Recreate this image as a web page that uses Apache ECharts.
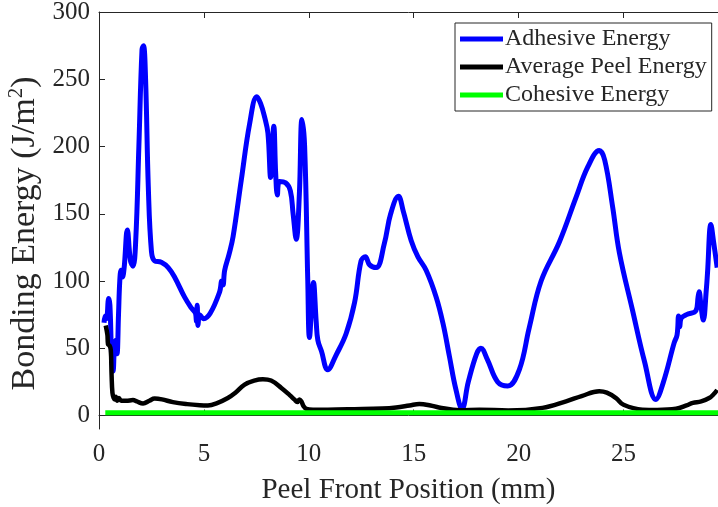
<!DOCTYPE html>
<html>
<head>
<meta charset="utf-8">
<script src="https://cdn.jsdelivr.net/npm/echarts@6/dist/echarts.min.js"></script>
<style>
  html, body { margin: 0; padding: 0; background: #fff; }
  #chart { width: 718px; height: 507px; }
</style>
</head>
<body>
<div id="chart"></div>
<script>
// Peel front position (mm) and adhesive energy (J/m^2)
const adhesiveX = [0.24, 0.30, 0.36, 0.46, 0.52, 0.60, 0.67, 0.74, 0.80, 0.86, 0.93, 0.99, 1.05, 1.12, 1.20, 1.35, 1.50, 1.62, 1.75, 1.90, 2.05, 2.12, 2.22, 2.35, 2.50, 2.65, 2.97, 3.30, 3.60, 4.08, 4.40, 4.60, 4.64, 4.68, 4.72, 4.80, 4.99, 5.30, 5.75, 5.85, 5.91, 5.99, 6.20, 6.39, 6.78, 7.18, 7.52, 7.70, 7.89, 8.05, 8.18, 8.33, 8.42, 8.50, 8.60, 8.89, 9.12, 9.25, 9.40, 9.55, 9.67, 9.80, 9.95, 10.03, 10.22, 10.35, 10.43, 10.60, 10.90, 11.30, 11.78, 12.18, 12.49, 12.69, 12.90, 13.21, 13.60, 13.90, 14.27, 14.50, 14.88, 15.20, 15.59, 16.07, 16.40, 16.70, 17.00, 17.30, 17.60, 18.00, 18.20, 18.50, 19.00, 19.48, 20.03, 20.50, 21.07, 21.94, 22.73, 23.30, 23.84, 24.10, 24.48, 24.80, 25.43, 26.00, 26.54, 26.90, 27.41, 27.55, 27.62, 27.68, 27.73, 28.00, 28.45, 28.55, 28.60, 28.70, 28.80, 28.95, 29.00, 29.16, 29.30, 29.46];
const adhesiveY = [69, 74, 72, 87, 82, 45, 33, 52, 56, 46, 75, 100, 108, 103, 110, 138, 115, 111, 130, 200, 272, 275, 250, 170, 122, 115, 114, 110, 103, 88, 80, 76, 70, 82, 67, 75, 72, 76, 92, 100, 97, 108, 120, 133, 175, 217, 237, 232, 222, 210, 177, 215, 180, 164, 174, 173, 167, 150, 131, 165, 220, 200, 100, 58, 99, 70, 56, 48, 34, 45, 61, 84, 115, 118, 112, 110, 128, 150, 163, 152, 130, 118, 108, 88, 68, 44, 20, 5, 25, 46, 50, 42, 25, 22, 34, 65, 100, 129, 162, 185, 197, 190, 155, 121, 78, 40, 12, 25, 54, 60, 74, 66, 72, 75, 78, 88, 92, 80, 71, 95, 106, 142, 128, 110];

// Average peel energy (J/m^2)
const peelX = [0.32, 0.40, 0.43, 0.50, 0.56, 0.60, 0.64, 0.70, 0.75, 0.80, 0.87, 0.95, 1.05, 1.30, 1.62, 1.80, 2.10, 2.40, 2.65, 3.00, 3.52, 4.20, 4.80, 5.19, 5.60, 6.14, 6.50, 6.94, 7.40, 7.81, 8.20, 8.69, 9.10, 9.32, 9.45, 9.55, 9.64, 9.75, 9.88, 10.20, 10.90, 12.18, 13.50, 14.16, 14.80, 15.27, 15.80, 16.20, 17.20, 18.13, 19.50, 21.13, 22.26, 23.00, 23.84, 24.20, 24.64, 25.00, 25.90, 26.60, 27.50, 28.00, 28.30, 28.70, 29.08, 29.30, 29.46];
const peelY = [67, 60, 53, 52, 49, 30, 17, 13, 12, 14, 11, 13, 11, 11, 11.5, 10.5, 9, 11, 12.6, 12, 10, 8.5, 7.7, 7.5, 9, 13, 17, 23, 26, 27, 26, 20.5, 15, 11.8, 10, 12, 10.6, 7, 5, 4.4, 4.4, 4.7, 5.2, 6, 7.5, 8.6, 7.5, 6, 4, 4.4, 3.8, 5.7, 10.6, 14.5, 18, 17, 13, 8, 4.4, 4.2, 5, 7.5, 9.4, 10.5, 13, 16, 19];

// Cohesive energy (J/m^2), constant over the peel
const cohesiveX = [0.3, 29.5];
const cohesiveY = [2, 2];

// Axis ticks
const xTicks = [0, 5, 10, 15, 20, 25];
const yTicks = [0, 50, 100, 150, 200, 250, 300];

const pairs = (xs, ys) => xs.map((x, i) => [x, ys[i]]);

const FONT = 'Liberation Serif';
const AXIS = '#262626';

const chart = echarts.init(document.getElementById('chart'), null, { renderer: 'canvas' });

const axisCommon = {
  axisLine: { show: true, lineStyle: { color: AXIS, width: 1 } },
  axisTick: { show: true, inside: true, length: 6, lineStyle: { color: AXIS } },
  splitLine: { show: false },
};

chart.setOption({
  animation: false,
  backgroundColor: '#fff',
  grid: { left: 99, top: 12, right: 0, bottom: 78, containLabel: false, outerBoundsMode: 'none' },
  legend: {
    orient: 'vertical',
    left: 455,
    top: 23,
    padding: [4, 5, 4, 5],
    icon: 'rect',
    itemWidth: 43,
    itemHeight: 5,
    itemGap: 4,
    borderColor: AXIS,
    borderWidth: 1,
    backgroundColor: '#fff',
    textStyle: { fontFamily: FONT, fontSize: 24, color: AXIS, padding: [0, 0, 0, -3], lineHeight: 24 },
    data: ['Adhesive Energy', 'Average Peel Energy', 'Cohesive Energy'],
  },
  xAxis: [
    Object.assign({}, axisCommon, {
      type: 'value',
      min: 0,
      max: 29.5,
      position: 'bottom',
      axisTick: Object.assign({}, axisCommon.axisTick, { customValues: xTicks }),
      axisLabel: { customValues: xTicks, margin: 13, fontFamily: FONT, fontSize: 25, color: AXIS },
      name: 'Peel Front Position (mm)',
      nameLocation: 'middle',
      nameGap: 47,
      nameTextStyle: { fontFamily: FONT, fontSize: 29, color: AXIS },
    }),
    Object.assign({}, axisCommon, {
      type: 'value',
      min: 0,
      max: 29.5,
      position: 'top',
      axisTick: Object.assign({}, axisCommon.axisTick, { customValues: xTicks }),
      axisLabel: { show: false },
    }),
  ],
  yAxis: Object.assign({}, axisCommon, {
    type: 'value',
    min: -10,
    max: 300,
    axisTick: Object.assign({}, axisCommon.axisTick, { customValues: yTicks }),
    axisLabel: { customValues: yTicks, margin: 9, fontFamily: FONT, fontSize: 25, color: AXIS },
    name: '{t|Bonding Energy (J/m}{s|2}{t|)}',
    nameLocation: 'middle',
    nameGap: 47,
    nameRotate: 90,
    nameTextStyle: {
      fontFamily: FONT, color: AXIS,
      padding: [0, 26, 0, 0],
      rich: {
        t: { fontFamily: FONT, fontSize: 34, color: AXIS, lineHeight: 38 },
        s: { fontFamily: FONT, fontSize: 21, color: AXIS, verticalAlign: 'top', lineHeight: 38 },
      },
    },
  }),
  series: [
    {
      name: 'Adhesive Energy', type: 'line', xAxisIndex: 0,
      data: pairs(adhesiveX, adhesiveY),
      showSymbol: false, symbol: 'none',
      smooth: 0.4,
      lineStyle: { color: '#0000ff', width: 5 },
      itemStyle: { color: '#0000ff' },
    },
    {
      name: 'Average Peel Energy', type: 'line', xAxisIndex: 0,
      data: pairs(peelX, peelY),
      showSymbol: false, symbol: 'none',
      smooth: 0.4,
      lineStyle: { color: '#000000', width: 4.5 },
      itemStyle: { color: '#000000' },
    },
    {
      name: 'Cohesive Energy', type: 'line', xAxisIndex: 0,
      data: pairs(cohesiveX, cohesiveY),
      showSymbol: false, symbol: 'none',
      lineStyle: { color: '#00ff00', width: 5 },
      itemStyle: { color: '#00ff00' },
    },
  ],
});
</script>
</body>
</html>
